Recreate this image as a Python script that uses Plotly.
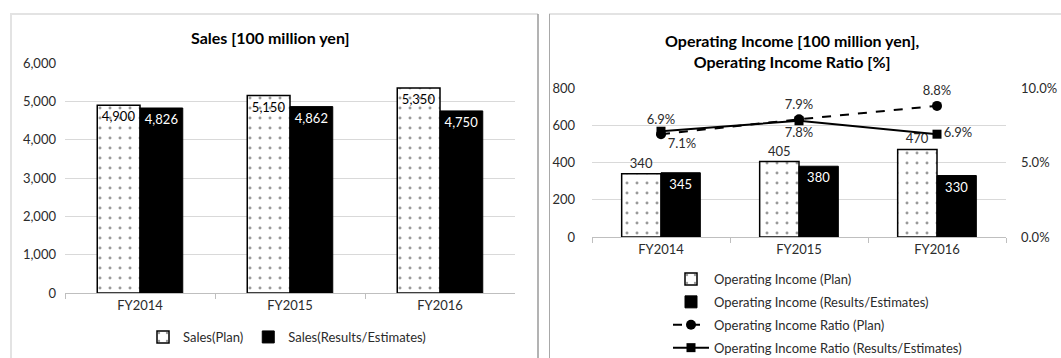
import plotly.graph_objects as go

# Fiscal years shown on both panels
years = ["FY2014", "FY2015", "FY2016"]

# Sales [100 million yen]
sales_plan = [4900, 5150, 5350]
sales_results = [4826, 4862, 4750]

# Operating income [100 million yen]
oi_plan = [340, 405, 470]
oi_results = [345, 380, 330]

# Operating income ratio [%]
ratio_plan = [6.9, 7.9, 8.8]
ratio_results = [7.1, 7.8, 6.9]

# Right-hand ratio axis ticks
ratio_ticks = [0, 5, 10]
ratio_tick_labels = ["0.0%", "5.0%", "10.0%"]

W, H = 1061, 358
FONT = "Lato"
TXT = "#2b2b2b"
GRID = "#d9d9d9"
AXLINE = "#bfbfbf"


def px_x(p):
    return p / W


def px_y(p):
    return 1 - p / H


dots = dict(shape=".", fgcolor="#333333", bgcolor="white", size=10, solidity=0.07)

fig = go.Figure()

# ---- Left panel: sales ----
fig.add_trace(go.Bar(
    x=years, y=sales_plan, name="Sales(Plan)",
    marker=dict(color="white", pattern=dots, line=dict(color="black", width=1.5)),
    text=[f"{v:,}" for v in sales_plan], textposition="inside",
    insidetextanchor="end", textangle=0, constraintext="none",
    insidetextfont=dict(color="black", size=13, family=FONT),
    xaxis="x", yaxis="y", legend="legend",
))
fig.add_trace(go.Bar(
    x=years, y=sales_results, name="Sales(Results/Estimates)",
    marker=dict(color="black", line=dict(color="black", width=1)),
    text=[f"{v:,}" for v in sales_results], textposition="inside",
    insidetextanchor="end", textangle=0, constraintext="none",
    insidetextfont=dict(color="white", size=13, family=FONT),
    xaxis="x", yaxis="y", legend="legend",
))

# ---- Right panel: operating income and ratio ----
fig.add_trace(go.Bar(
    x=years, y=oi_plan, name="Operating Income (Plan)",
    marker=dict(color="white", pattern=dots, line=dict(color="black", width=1.5)),
    text=[str(v) for v in oi_plan], textposition="outside", textangle=0,
    constraintext="none", cliponaxis=False,
    outsidetextfont=dict(color=TXT, size=13, family=FONT),
    xaxis="x2", yaxis="y2", legend="legend2", legendgroup="a",
))
fig.add_trace(go.Bar(
    x=years, y=oi_results, name="Operating Income (Results/Estimates)",
    marker=dict(color="black", line=dict(color="black", width=1)),
    text=[str(v) for v in oi_results], textposition="inside",
    insidetextanchor="end", textangle=0, constraintext="none",
    insidetextfont=dict(color="white", size=13, family=FONT),
    xaxis="x2", yaxis="y2", legend="legend2", legendgroup="b",
))
fig.add_trace(go.Scatter(
    x=years, y=ratio_plan, name="Operating Income Ratio (Plan)",
    mode="lines+markers+text",
    line=dict(color="black", width=2, dash="dash"),
    marker=dict(symbol="circle", size=10, color="black"),
    text=[f"{v:.1f}%" for v in ratio_plan], textposition="top center",
    textfont=dict(color=TXT, size=13, family=FONT), cliponaxis=False,
    xaxis="x2", yaxis="y3", legend="legend2", legendgroup="c",
))
fig.add_trace(go.Scatter(
    x=years, y=ratio_results, name="Operating Income Ratio (Results/Estimates)",
    mode="lines+markers+text",
    line=dict(color="black", width=2),
    marker=dict(symbol="square", size=9, color="black"),
    text=[f"{v:.1f}%" for v in ratio_results],
    textposition=["bottom right", "bottom center", "middle right"],
    textfont=dict(color=TXT, size=13, family=FONT), cliponaxis=False,
    xaxis="x2", yaxis="y3", legend="legend2", legendgroup="d",
))

xcommon = dict(
    type="category", showgrid=False, showline=True, linecolor=AXLINE, linewidth=1,
    ticks="outside", tickson="boundaries", ticklen=5, tickcolor=AXLINE,
    tickfont=dict(size=13, color=TXT, family=FONT), fixedrange=True,
)
ycommon = dict(
    showgrid=True, gridcolor=GRID, gridwidth=1, zeroline=False, showline=False,
    tickfont=dict(size=13, color=TXT, family=FONT), fixedrange=True,
)

fig.update_layout(
    width=W, height=H, margin=dict(l=0, r=0, t=0, b=0, autoexpand=False),
    paper_bgcolor="white", plot_bgcolor="white",
    font=dict(family=FONT, color=TXT, size=13),
    barmode="group", bargap=0.43, bargroupgap=0,
    xaxis=dict(domain=[px_x(65), px_x(515)], anchor="y", **xcommon),
    yaxis=dict(domain=[px_y(293), px_y(63)], range=[0, 6000], dtick=1000,
               tickformat=",", ticklabelstandoff=8, anchor="x", **ycommon),
    xaxis2=dict(domain=[px_x(592), px_x(1006)], anchor="y2", **xcommon),
    yaxis2=dict(domain=[px_y(237), px_y(88)], range=[0, 800], dtick=200,
                ticklabelstandoff=16, anchor="x2", **ycommon),
    yaxis3=dict(overlaying="y2", side="right", anchor="x2", range=[0, 10],
                tickmode="array", tickvals=ratio_ticks, ticktext=ratio_tick_labels,
                showgrid=False, zeroline=False, showline=False,
                ticklabelstandoff=14, fixedrange=True,
                tickfont=dict(size=13, color=TXT, family=FONT)),
    legend=dict(orientation="h", x=px_x(287), xanchor="center",
                y=px_y(337), yanchor="middle", itemwidth=30,
                font=dict(size=13, color=TXT, family=FONT),
                bgcolor="rgba(0,0,0,0)"),
    legend2=dict(orientation="v", x=px_x(668), xanchor="left",
                 y=px_y(264), yanchor="top", itemwidth=36, tracegroupgap=3,
                 font=dict(size=13, color=TXT, family=FONT),
                 bgcolor="rgba(0,0,0,0)"),
    annotations=[
        dict(text="<b>Sales [100 million yen]</b>", x=px_x(270), y=px_y(37),
             xref="paper", yref="paper", xanchor="center", yanchor="middle",
             showarrow=False, font=dict(size=16, color="black", family=FONT)),
        dict(text="<b>Operating Income [100 million yen],<br>Operating Income Ratio [%]</b>",
             x=px_x(792), y=px_y(51), xref="paper", yref="paper",
             xanchor="center", yanchor="middle", showarrow=False,
             font=dict(size=16, color="black", family=FONT)),
    ],
    shapes=[
        # left panel frame
        dict(type="line", xref="paper", yref="paper", x0=px_x(10), x1=px_x(538),
             y0=px_y(14), y1=px_y(14), line=dict(color="#e3e3e3", width=2)),
        dict(type="line", xref="paper", yref="paper", x0=px_x(11), x1=px_x(11),
             y0=px_y(14), y1=0, line=dict(color="#e3e3e3", width=2)),
        dict(type="line", xref="paper", yref="paper", x0=px_x(538), x1=px_x(538),
             y0=px_y(14), y1=0, line=dict(color="#9a9a9a", width=1.5)),
        # right panel frame
        dict(type="line", xref="paper", yref="paper", x0=px_x(549), x1=1,
             y0=px_y(14), y1=px_y(14), line=dict(color="#e3e3e3", width=2)),
        dict(type="line", xref="paper", yref="paper", x0=px_x(549.5), x1=px_x(549.5),
             y0=px_y(14), y1=0, line=dict(color="#a8a8a8", width=1)),
    ],
)

fig.write_html("out.html")
